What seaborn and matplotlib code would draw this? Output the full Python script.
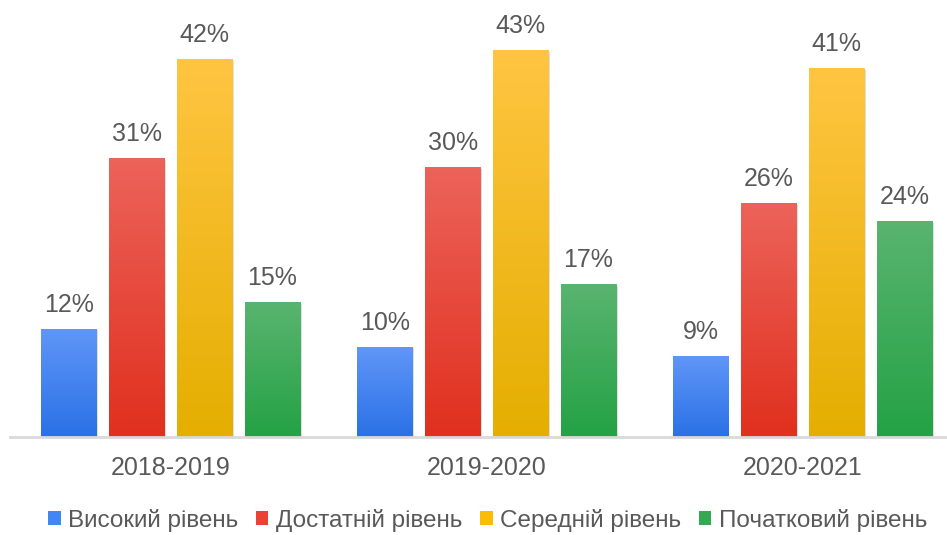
import matplotlib.pyplot as plt
import matplotlib.patheffects as pe
from matplotlib.colors import LinearSegmentedColormap
from matplotlib.patches import Patch
import numpy as np
import pandas as pd
import seaborn as sns

# data
years = ['2018-2019', '2019-2020', '2020-2021']
levels = ['Високий рівень', 'Достатній рівень', 'Середній рівень', 'Початковий рівень']
high = [12, 10, 9]
enough = [31, 30, 26]
middle = [42, 43, 41]
initial = [15, 17, 24]

# colours: legend/base colour plus top and bottom of the bar gradient
base_colors = ['#4285f4', '#ea4335', '#fbbc04', '#34a853']
top_colors = ['#6096f7', '#ec635a', '#ffc542', '#59b46f']
bottom_colors = ['#2a71e6', '#e0301e', '#e5ae00', '#24a245']

df = pd.DataFrame({
    'year': np.repeat(years, 4),
    'level': levels * 3,
    'value': [v for trio in zip(high, enough, middle, initial) for v in trio],
})

sns.set_style('white')
plt.rcParams['font.family'] = ['Liberation Sans', 'DejaVu Sans']
text_color = '#595959'

fig = plt.figure(figsize=(9.47, 5.35), dpi=100)
ax = fig.add_axes([10 / 947, 98 / 535, 1 - 10 / 947, 437 / 535])

sns.barplot(data=df, x='year', y='value', hue='level', hue_order=levels,
            order=years, palette=base_colors, width=0.86, gap=0.18,
            legend=False, ax=ax)

# gradient fill on top of each bar, with a soft shadow
for container, c_top, c_bot in zip(ax.containers, top_colors, bottom_colors):
    cmap = LinearSegmentedColormap.from_list('g', [c_bot, c_top])
    grad = np.linspace(0, 1, 256).reshape(-1, 1)
    for bar in container:
        bar.set_path_effects([pe.SimplePatchShadow(offset=(1, -1), shadow_rgbFace='#808080', alpha=0.3),
                              pe.Normal()])
        x0 = bar.get_x()
        w = bar.get_width()
        h = bar.get_height()
        ax.imshow(grad, extent=(x0, x0 + w, 0, h), origin='lower', aspect='auto',
                  cmap=cmap, zorder=bar.get_zorder() + 0.1)
    ax.bar_label(container, labels=[f'{v:.0f}%' for v in container.datavalues],
                 padding=9, fontsize=18, color=text_color)

ax.set_aspect('auto')
ax.set_xlim(-0.508, 2.457)
ax.set_ylim(0, 48.6)

for s in ['top', 'right', 'left']:
    ax.spines[s].set_visible(False)
ax.spines['bottom'].set_color('#d9d9d9')
ax.spines['bottom'].set_linewidth(2)
ax.set_yticks([])
ax.set_xlabel('')
ax.set_ylabel('')
ax.tick_params(axis='x', length=0, pad=14, labelsize=18, labelcolor=text_color)

handles = [Patch(facecolor=c, edgecolor='none') for c in base_colors]
fig.legend(handles, levels, loc='center', bbox_to_anchor=(0.515, 0.027), ncol=4,
           frameon=False, fontsize=17.5, labelcolor=text_color,
           handlelength=0.5, handleheight=0.5, handletextpad=0.3,
           columnspacing=0.75)

fig.savefig('out.png', dpi=100)
